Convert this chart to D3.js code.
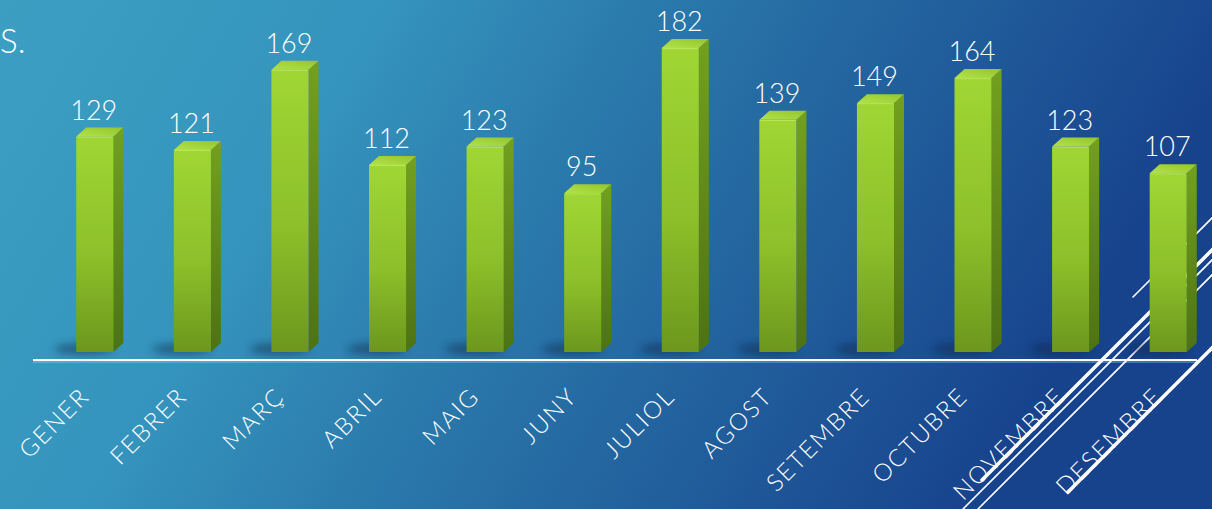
<!DOCTYPE html>
<html><head><meta charset="utf-8">
<script src="https://cdn.jsdelivr.net/npm/d3@7"></script>
<style>html,body{margin:0;padding:0;overflow:hidden;background:#2a78aa}</style>
</head><body>
<svg id="c" width="1212" height="509"></svg>
<script>
const categories = ["GENER","FEBRER","MARÇ","ABRIL","MAIG","JUNY","JULIOL","AGOST","SETEMBRE","OCTUBRE","NOVEMBRE","DESEMBRE"];
const values = [129,121,169,112,123,95,182,139,149,164,123,107];
const titleFragment = "S.";

const W = 1212, H = 509;
const svg = d3.select('#c');
const defs = svg.append('defs');

// background gradient
const bg = defs.append('linearGradient').attr('id','bg').attr('x1','0').attr('y1','0').attr('x2','1').attr('y2','0.25');
[[0,'#3c9fc2'],[0.3,'#3594bd'],[0.5,'#2b7bac'],[0.75,'#215e9c'],[1,'#17428c']].forEach(s=>bg.append('stop').attr('offset',s[0]).attr('stop-color',s[1]));
svg.append('rect').attr('width',W).attr('height',H).attr('fill','url(#bg)');

// bar gradients
const gf = defs.append('linearGradient').attr('id','front').attr('x1',0).attr('y1',0).attr('x2',0).attr('y2',1);
[[0,'#a0d634'],[0.55,'#8dc02a'],[1,'#6c971d']].forEach(s=>gf.append('stop').attr('offset',s[0]).attr('stop-color',s[1]));
const gs = defs.append('linearGradient').attr('id','side').attr('x1',0).attr('y1',0).attr('x2',0).attr('y2',1);
[[0,'#73a01f'],[1,'#4d7214']].forEach(s=>gs.append('stop').attr('offset',s[0]).attr('stop-color',s[1]));
const gt = defs.append('linearGradient').attr('id','top').attr('x1',0).attr('y1',1).attr('x2',1).attr('y2',0);
[[0,'#b2e34a'],[1,'#94c52c']].forEach(s=>gt.append('stop').attr('offset',s[0]).attr('stop-color',s[1]));
const blur = defs.append('filter').attr('id','blur').attr('x','-50%').attr('y','-200%').attr('width','200%').attr('height','500%');
blur.append('feGaussianBlur').attr('stdDeviation',4);

// scales
const x = d3.scaleBand().domain(categories).range([46,1217]).paddingInner(0.62).paddingOuter(0.31);
const y = d3.scaleLinear().domain([0,200]).range([352,18]);
const dx = 10, dy = 9;
const axisY = 360;

// title fragment
svg.append('text').attr('x',0).attr('y',53).text(titleFragment)
  .attr('fill','#fff').attr('font-family','Lato, "Open Sans", sans-serif').attr('font-weight',300).attr('font-size',33);

// axis line
svg.append('line').attr('x1',33).attr('x2',1197).attr('y1',axisY).attr('y2',axisY).attr('stroke','#ffffff').attr('stroke-width',2.2);
svg.append('line').attr('x1',33).attr('x2',1197).attr('y1',axisY+2).attr('y2',axisY+2).attr('stroke','#9fd3ee').attr('stroke-width',1).attr('opacity',0.7);

// axis labels
const ax = svg.append('g').attr('transform',`translate(0,${axisY})`)
  .call(d3.axisBottom(x).tickSize(0).tickPadding(0));
ax.select('.domain').remove();
ax.selectAll('text')
  .attr('fill','#fff').attr('font-family','Lato, sans-serif').attr('font-weight',300).attr('font-size',24)
  .attr('letter-spacing','1.8px')
  .attr('text-anchor','end').attr('dy',0).attr('x',0).attr('y',0)
  .attr('transform','translate(-4,38) rotate(-45)');

// decorative lines
const deco = [
  {x1:982,y1:480,x2:1232,y2:230,w:3.5},
  {x1:963,y1:509,x2:1232,y2:240,w:1.6},
  {x1:978,y1:509,x2:1232,y2:255,w:1.6},
  {x1:1133,y1:297,x2:1232,y2:198,w:1.6},
  {x1:1068,y1:492,x2:1232,y2:328,w:3.5}
];
svg.append('g').selectAll('line').data(deco).join('line')
  .attr('x1',d=>d.x1).attr('y1',d=>d.y1).attr('x2',d=>d.x2).attr('y2',d=>d.y2)
  .attr('stroke','#fff').attr('stroke-width',d=>d.w).attr('stroke-linecap','round');

// shadows
svg.append('g').selectAll('ellipse').data(categories).join('ellipse')
  .attr('cx',d=>x(d)+8).attr('cy',y(0)-3).attr('rx',x.bandwidth()*0.8).attr('ry',5)
  .attr('fill','#0a2440').attr('opacity',0.55).attr('filter','url(#blur)');

// bars
const bars = svg.append('g').selectAll('g').data(categories.map((c,i)=>({c,v:values[i]}))).join('g');
bars.append('path').attr('fill','url(#side)')
  .attr('d',d=>{const x0=x(d.c)+x.bandwidth(), t=y(d.v), b=y(0);
    return `M${x0},${t}L${x0+dx},${t-dy}L${x0+dx},${b-dy}L${x0},${b}Z`;});
bars.append('rect').attr('fill','url(#front)')
  .attr('x',d=>x(d.c)).attr('y',d=>y(d.v)).attr('width',x.bandwidth()).attr('height',d=>y(0)-y(d.v));
bars.append('path').attr('fill','url(#top)')
  .attr('d',d=>{const x0=x(d.c), x1=x0+x.bandwidth(), t=y(d.v);
    return `M${x0},${t}L${x0+dx},${t-dy}L${x1+dx},${t-dy}L${x1},${t}Z`;});
bars.append('line').attr('x1',d=>x(d.c)+1).attr('x2',d=>x(d.c)+x.bandwidth()-1)
  .attr('y1',d=>y(d.v)+0.5).attr('y2',d=>y(d.v)+0.5).attr('stroke','#c8f06a').attr('stroke-width',1).attr('opacity',0.7);

// value labels
svg.append('g').selectAll('text').data(categories.map((c,i)=>({c,v:values[i]}))).join('text')
  .attr('x',d=>x(d.c)+x.bandwidth()/2-1).attr('y',d=>y(d.v)-17)
  .attr('text-anchor','middle').attr('fill','#fff')
  .attr('font-family','Lato, "Open Sans", sans-serif').attr('font-weight',300).attr('font-size',27)
  .text(d=>d.v);
</script>
</body></html>
